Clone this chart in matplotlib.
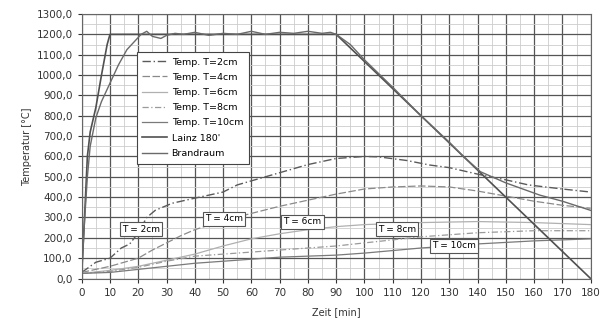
import matplotlib.pyplot as plt
from matplotlib.ticker import MultipleLocator, FuncFormatter

# Zeit [min] / Temperatur [°C]
t_2cm = [0, 5, 10, 14, 17, 20, 23, 26, 32, 40, 50, 55, 60, 70, 80, 90, 100, 105, 115, 123, 130, 141, 150, 158, 170, 180]
T_2cm = [30, 80, 100, 150, 170, 225, 300, 335, 370, 395, 425, 460, 480, 520, 560, 590, 600, 598, 580, 558, 545, 510, 485, 460, 440, 425]

t_4cm = [0, 10, 20, 25, 30, 35, 40, 50, 60, 70, 80, 90, 100, 110, 120, 130, 140, 150, 160, 170, 180]
T_4cm = [30, 60, 100, 140, 175, 210, 240, 285, 320, 355, 385, 415, 440, 450, 455, 450, 430, 405, 380, 360, 345]

t_6cm = [0, 10, 20, 30, 40, 50, 60, 70, 80, 90, 100, 120, 140, 160, 180]
T_6cm = [25, 40, 60, 90, 120, 160, 195, 220, 240, 255, 265, 275, 280, 275, 265]

t_8cm = [0, 10, 20, 30, 40, 50, 60, 70, 80, 90, 100, 110, 120, 140, 160, 180]
T_8cm = [25, 35, 55, 85, 110, 120, 130, 140, 150, 160, 175, 190, 205, 225, 235, 235]

t_10cm = [0, 10, 20, 30, 40, 50, 60, 70, 80, 90, 100, 120, 140, 160, 180]
T_10cm = [25, 30, 45, 60, 75, 85, 95, 105, 110, 115, 125, 150, 170, 185, 195]

t_lainz = [0, 1, 2, 3, 5, 7, 9, 10, 90, 180]
T_lainz = [20, 300, 600, 720, 840, 1000, 1150, 1200, 1200, 0]

t_brand = [0, 1, 2, 3, 5, 7, 10, 13, 16, 19, 21, 23, 25, 28, 30, 33, 36, 40, 45, 50, 55, 60, 65, 70, 75, 80, 85, 88, 90,
           95, 100, 110, 120, 130, 135, 141, 150, 162, 170, 180]
T_brand = [30, 280, 500, 650, 790, 870, 960, 1050, 1125, 1170, 1200, 1215, 1190, 1180, 1195, 1205, 1200, 1210, 1195, 1205,
           1200, 1215, 1200, 1210, 1205, 1215, 1205, 1210, 1200, 1150, 1075, 940, 800, 670, 600, 525, 470, 410, 380, 335]

labels = ["Temp. T=2cm", "Temp. T=4cm", "Temp. T=6cm", "Temp. T=8cm", "Temp. T=10cm", "Lainz 180'", "Brandraum"]

fig = plt.figure(figsize=(6.03, 3.22), dpi=100)
ax = fig.add_axes([0.1355, 0.135, 0.844, 0.8215])

ax.plot(t_2cm, T_2cm, color="#5a5a5a", lw=1.0, dashes=(6, 2, 1, 2), label=labels[0])
ax.plot(t_4cm, T_4cm, color="#8a8a8a", lw=0.9, dashes=(6, 2), label=labels[1])
ax.plot(t_6cm, T_6cm, color="#b0b0b0", lw=0.9, label=labels[2])
ax.plot(t_8cm, T_8cm, color="#9a9a9a", lw=0.9, dashes=(5, 2, 1, 2), label=labels[3])
ax.plot(t_10cm, T_10cm, color="#7a7a7a", lw=0.9, label=labels[4])
ax.plot(t_lainz, T_lainz, color="#505050", lw=1.2, label=labels[5])
ax.plot(t_brand, T_brand, color="#6a6a6a", lw=1.0, label=labels[6])

ax.set_xlim(0, 180)
ax.set_ylim(0, 1300)
ax.xaxis.set_major_locator(MultipleLocator(10))
ax.xaxis.set_minor_locator(MultipleLocator(5))
ax.yaxis.set_major_locator(MultipleLocator(100))
ax.yaxis.set_minor_locator(MultipleLocator(50))
ax.yaxis.set_major_formatter(FuncFormatter(lambda v, p: f"{v:.1f}".replace(".", ",")))
ax.grid(which="major", color="#555555", lw=0.9)
ax.grid(which="minor", color="#cccccc", lw=0.6)
ax.set_axisbelow(True)
for s in ax.spines.values():
    s.set_color("#666666")
ax.tick_params(which="major", labelsize=7.5, colors="#333333", length=3)
ax.tick_params(which="minor", length=0)

ax.set_xlabel("Zeit [min]", fontsize=7, color="#333333", labelpad=7)
ax.set_ylabel("Temperatur [°C]", fontsize=7, color="#333333", labelpad=3)

box = dict(boxstyle="square,pad=0.25", fc="white", ec="#555555", lw=0.8)
ax.text(21, 243, "T = 2cm", fontsize=6.5, ha="center", va="center", bbox=box)
ax.text(50.3, 293, "T = 4cm", fontsize=6.5, ha="center", va="center", bbox=box)
ax.text(78, 278, "T = 6cm", fontsize=6.5, ha="center", va="center", bbox=box)
ax.text(111.5, 243, "T = 8cm", fontsize=6.5, ha="center", va="center", bbox=box)
ax.text(131.6, 160, "T = 10cm", fontsize=6.5, ha="center", va="center", bbox=box)

leg = ax.legend(loc="upper left", bbox_to_anchor=(0.108, 0.857), fontsize=6.8, frameon=True,
                fancybox=False, edgecolor="#444444", framealpha=1, handlelength=2.6,
                labelspacing=0.66, borderpad=0.6, handletextpad=0.5, borderaxespad=0)
leg.get_frame().set_linewidth(0.8)

fig.savefig("out.png", dpi=100)
